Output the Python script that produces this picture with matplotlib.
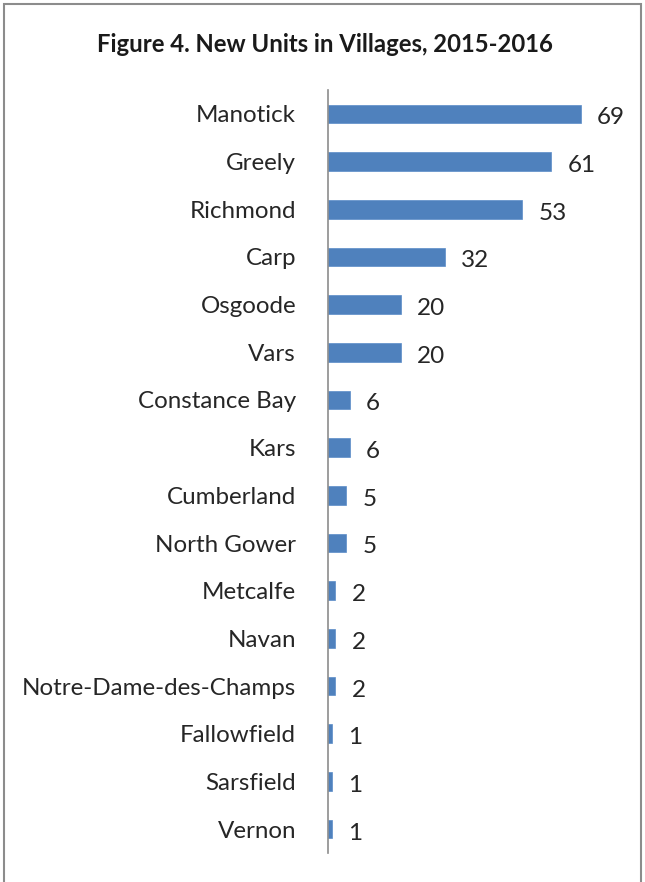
import matplotlib.pyplot as plt
from matplotlib.patches import Rectangle

villages = ["Manotick", "Greely", "Richmond", "Carp", "Osgoode", "Vars",
            "Constance Bay", "Kars", "Cumberland", "North Gower", "Metcalfe",
            "Navan", "Notre-Dame-des-Champs", "Fallowfield", "Sarsfield", "Vernon"]
units = [69, 61, 53, 32, 20, 20, 6, 6, 5, 5, 2, 2, 2, 1, 1, 1]

plt.rcParams['font.family'] = ['Lato', 'DejaVu Sans']

fig = plt.figure(figsize=(6.45, 8.82), dpi=100)
ax = fig.add_axes([328/645, 1 - 853/882, 293/645, 763/882])

ypos = list(range(len(villages)))
ax.barh(ypos, units, height=0.39, color="#4F81BD", edgecolor="#5B8CC8", linewidth=0.5)
ax.set_ylim(len(villages) - 0.5, -0.5)
ax.set_xlim(0, 80)

for y, v in zip(ypos, units):
    ax.text(v + 4.4, y + 0.04, str(v), va="center_baseline", ha="left",
            fontsize=17.5, color="#262626")

ax.set_yticks(ypos)
ax.set_yticklabels(villages, fontsize=17.4, color="#262626", va="center_baseline")
ax.tick_params(axis="y", length=0, pad=23)
ax.set_xticks([])
for s in ["top", "right", "bottom"]:
    ax.spines[s].set_visible(False)
ax.spines["left"].set_color("#8C8C8C")
ax.spines["left"].set_linewidth(1.2)

fig.text(325/645, 1 - 45/882, "Figure 4. New Units in Villages, 2015-2016",
         ha="center", va="center", fontsize=17.2, fontweight="bold", color="#1a1a1a")

# chart frame
fig.patches.append(Rectangle((4/645, -0.05), 637/645, 1.0 - 4/882 + 0.05,
                             transform=fig.transFigure, fill=False,
                             edgecolor="#8C8C8C", linewidth=1.5))

plt.savefig("out.png", dpi=100)
